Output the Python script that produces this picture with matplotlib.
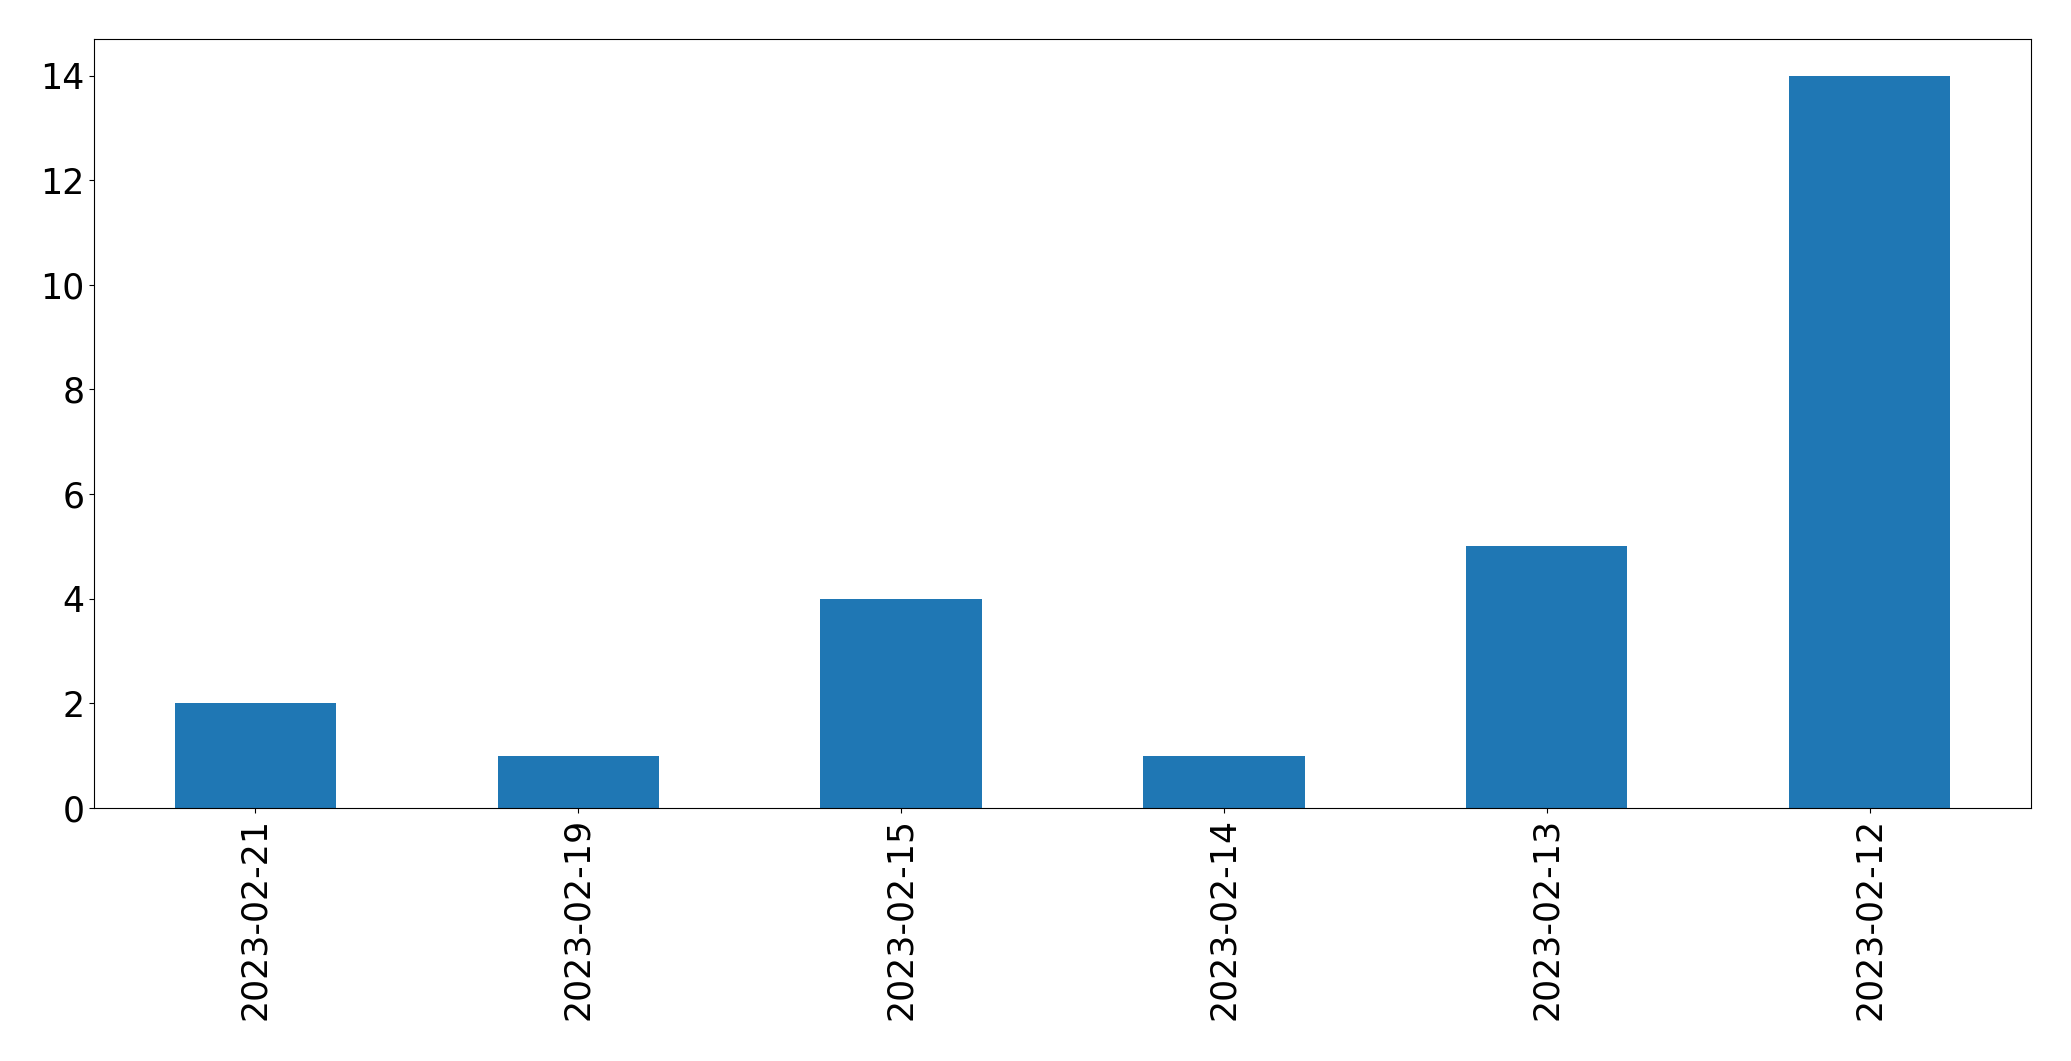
import matplotlib
matplotlib.use("Agg")
import matplotlib.pyplot as plt
import numpy as np

dates = ["2023-02-21", "2023-02-19", "2023-02-15", "2023-02-14", "2023-02-13", "2023-02-12"]
counts = [2, 1, 4, 1, 5, 14]

fig, ax = plt.subplots(figsize=(20.71, 10.61), dpi=100)
x = np.arange(len(dates))
ax.bar(x, counts, width=0.5, color="#1f77b4")
ax.set_xticks(x)
ax.set_xticklabels(dates, rotation=90)
ax.set_xlim(-0.5, len(dates) - 0.5)
ax.tick_params(labelsize=25)
fig.subplots_adjust(left=0.0454, right=0.9807, top=0.9632, bottom=0.2385)
fig.savefig("out.png", dpi=100)
